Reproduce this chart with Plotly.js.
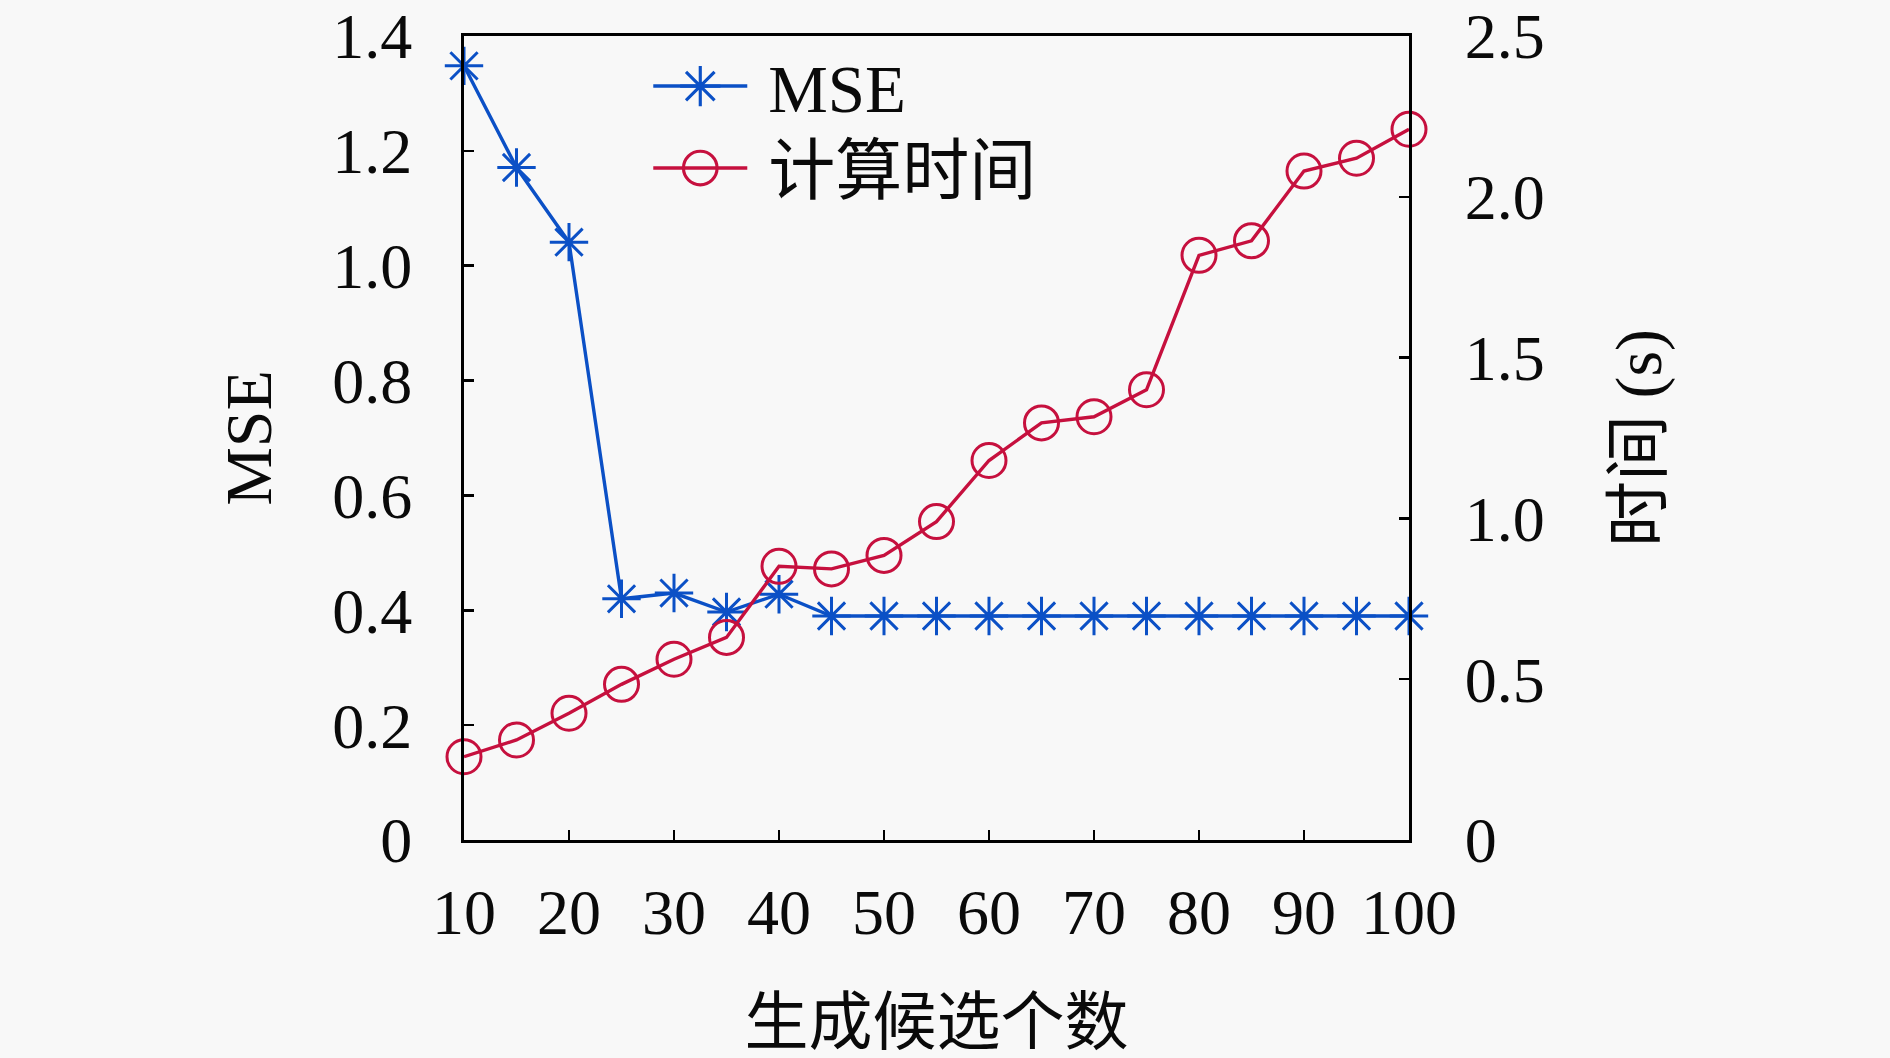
<!DOCTYPE html>
<html>
<head>
<meta charset="utf-8">
<script src="https://cdn.plot.ly/plotly-3.0.1.min.js"></script>
<style>
html,body{margin:0;padding:0;background:#f8f8f8;}
#chart{width:1890px;height:1058px;}
</style>
</head>
<body>
<div id="chart"></div>
<script>
const candidates = [10,15,20,25,30,35,40,45,50,55,60,65,70,75,80,85,90,95,100];
const mseValues = [1.348,1.171,1.041,0.420,0.430,0.397,0.428,0.390,0.390,0.390,0.390,0.390,0.390,0.390,0.390,0.390,0.390,0.390,0.390];
const timeValues = [0.259,0.311,0.394,0.484,0.562,0.630,0.851,0.843,0.885,0.990,1.180,1.297,1.316,1.400,1.818,1.863,2.080,2.120,2.210];
const xTicks = [10,20,30,40,50,60,70,80,90,100];
const mseTicks = [0,0.2,0.4,0.6,0.8,1.0,1.2,1.4];
const mseTickText = ['0','0.2','0.4','0.6','0.8','1.0','1.2','1.4'];
const timeTicks = [0,0.5,1.0,1.5,2.0,2.5];
const timeTickText = ['0','0.5','1.0','1.5','2.0','2.5'];

const serif = '"Liberation Serif", "Noto Sans CJK SC", serif';
const blue = '#0b50c6';
const red = '#c6103e';
const ink = '#0a0a0a';

const traces = [
  {
    x: candidates, y: mseValues, name: 'MSE', type: 'scatter', mode: 'lines+markers',
    yaxis: 'y', cliponaxis: false,
    line: {color: blue, width: 3.4},
    marker: {symbol: 'asterisk-open', size: 32, color: blue, line: {color: blue, width: 3}}
  },
  {
    x: candidates, y: timeValues, name: '计算时间', type: 'scatter', mode: 'lines+markers',
    yaxis: 'y2', cliponaxis: false,
    line: {color: red, width: 3.4},
    marker: {symbol: 'circle-open', size: 34, color: red, line: {color: red, width: 3}}
  }
];

const layout = {
  width: 1890, height: 1058,
  paper_bgcolor: '#f8f8f8', plot_bgcolor: '#f8f8f8',
  margin: {l: 464, r: 481, t: 36, b: 218},
  showlegend: true,
  legend: {
    x: 0.195, y: 1.0, xanchor: 'left', yanchor: 'top',
    bgcolor: 'rgba(0,0,0,0)', borderwidth: 0,
    font: {family: serif, size: 67, color: ink},
    itemwidth: 110, tracegroupgap: 0
  },
  xaxis: {
    range: [10, 100], tickmode: 'array', tickvals: xTicks, ticktext: xTicks.map(String),
    ticks: 'inside', ticklen: 10, tickwidth: 2.5, tickcolor: '#000',
    showline: true, linecolor: '#000', linewidth: 3, mirror: true,
    showgrid: false, zeroline: false,
    tickfont: {family: serif, size: 64, color: ink},
    ticklabelstandoff: 14,
    title: {text: '生成候选个数', font: {family: serif, size: 64, color: ink}, standoff: 56}
  },
  yaxis: {
    range: [0, 1.4], tickmode: 'array', tickvals: mseTicks, ticktext: mseTickText,
    ticks: 'inside', ticklen: 10, tickwidth: 2.5, tickcolor: '#000',
    showline: true, linecolor: '#000', linewidth: 3,
    showgrid: false, zeroline: false,
    tickfont: {family: serif, size: 64, color: ink},
    ticklabelstandoff: 36,
    title: {text: 'MSE', font: {family: serif, size: 66, color: ink}, standoff: 40}
  },
  yaxis2: {
    range: [0, 2.5], tickmode: 'array', tickvals: timeTicks, ticktext: timeTickText,
    overlaying: 'y', side: 'right',
    ticks: 'inside', ticklen: 10, tickwidth: 2.5, tickcolor: '#000',
    showline: true, linecolor: '#000', linewidth: 3,
    showgrid: false, zeroline: false,
    tickfont: {family: serif, size: 64, color: ink},
    ticklabelstandoff: 40,
    title: {text: '时间 (s)', font: {family: serif, size: 66, color: ink}, standoff: 72}
  }
};

Plotly.newPlot('chart', traces, layout, {staticPlot: true, displayModeBar: false}).then(function (gd) {
  // Lengthen legend sample lines, enlarge legend markers and set item spacing.
  const items = gd.querySelectorAll('.legend .traces');
  let firstY = null;
  items.forEach(function (tr, i) {
    tr.querySelectorAll('path.js-line').forEach(function (p) { p.setAttribute('d', 'M5,0h94'); });
    tr.querySelectorAll('path.scatterpts').forEach(function (p) {
      p.setAttribute('transform', 'translate(52,0) scale(2.1)');
      p.style.strokeWidth = '1.5px';
    });
    const m = /translate\(\s*([-\d.]+)[ ,]+([-\d.]+)\s*\)/.exec(tr.getAttribute('transform') || '');
    if (m) {
      const tx = parseFloat(m[1]), ty = parseFloat(m[2]);
      if (firstY === null) { firstY = ty; }
      tr.setAttribute('transform', 'translate(' + tx + ',' + (firstY + i * 82) + ')');
    }
  });
});
</script>
</body>
</html>
